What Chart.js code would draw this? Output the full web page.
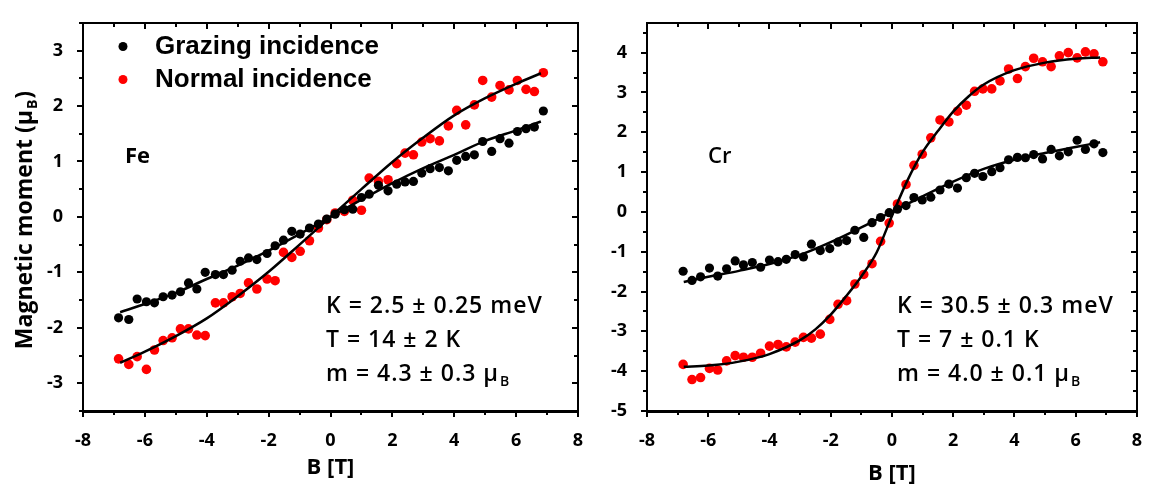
<!DOCTYPE html>
<html>
<head>
<meta charset="utf-8">
<script src="https://cdn.jsdelivr.net/npm/chart.js@4.4.0/dist/chart.umd.min.js"></script>
<style>
  html, body { margin: 0; padding: 0; background: #fff; }
  .panel { position: absolute; top: 0; height: 485px; }
  #fe-wrap { left: 0; width: 600px; }
  #cr-wrap { left: 600px; width: 553px; }
</style>
</head>
<body>
<div class="panel" id="fe-wrap"><canvas id="fe" width="600" height="485"></canvas></div>
<div class="panel" id="cr-wrap"><canvas id="cr" width="553" height="485"></canvas></div>
<script>
// Fe panel: measured magnetic moment vs field, grazing / normal incidence
const feB = [-6.85, -6.52, -6.25, -5.95, -5.69, -5.41, -5.12, -4.85, -4.59, -4.32,
  -4.05, -3.72, -3.46, -3.18, -2.92, -2.65, -2.38, -2.05, -1.79, -1.52,
  -1.25, -0.98, -0.68, -0.39, -0.12, 0.15, 0.45, 0.72, 1.0, 1.25,
  1.55, 1.86, 2.14, 2.41, 2.68, 2.95, 3.22, 3.52, 3.81, 4.08,
  4.37, 4.65, 4.92, 5.21, 5.48, 5.77, 6.04, 6.32, 6.59, 6.88];
const feGrazing = [-1.82, -1.85, -1.48, -1.53, -1.55, -1.44, -1.41, -1.35, -1.19, -1.30,
  -1.00, -1.04, -1.04, -0.96, -0.80, -0.74, -0.77, -0.66, -0.52, -0.42,
  -0.26, -0.31, -0.20, -0.13, -0.04, 0.05, 0.13, 0.14, 0.35, 0.41,
  0.57, 0.47, 0.59, 0.63, 0.64, 0.79, 0.87, 0.89, 0.83, 1.02,
  1.09, 1.12, 1.36, 1.18, 1.41, 1.33, 1.54, 1.59, 1.62, 1.91];
const feNormal = [-2.56, -2.66, -2.52, -2.75, -2.40, -2.23, -2.18, -2.02, -2.02, -2.13,
  -2.14, -1.55, -1.55, -1.44, -1.38, -1.19, -1.30, -1.12, -1.15, -0.64,
  -0.73, -0.62, -0.43, -0.20, -0.05, 0.07, 0.10, 0.30, 0.12, 0.70,
  0.64, 0.67, 0.96, 1.15, 1.12, 1.35, 1.41, 1.37, 1.64, 1.92,
  1.66, 2.02, 2.46, 2.16, 2.37, 2.29, 2.46, 2.30, 2.26, 2.60];
const feFitB = [-6.8, -6, -5, -4, -3, -2, -1, 0, 1, 2, 3, 4, 5, 6, 6.8];
const feFitGrazing = [-1.72, -1.57, -1.37, -1.12, -0.88, -0.61, -0.31, 0, 0.31, 0.61, 0.88, 1.12, 1.37, 1.56, 1.72];
const feFitNormal = [-2.63, -2.43, -2.15, -1.83, -1.43, -0.99, -0.50, 0, 0.50, 0.99, 1.43, 1.83, 2.14, 2.40, 2.59];

// Cr panel
const crB = [-6.82, -6.53, -6.25, -5.96, -5.69, -5.40, -5.12, -4.85, -4.56, -4.29,
  -4.00, -3.72, -3.45, -3.16, -2.89, -2.63, -2.34, -2.03, -1.76, -1.48,
  -1.21, -0.92, -0.65, -0.37, -0.09, 0.18, 0.46, 0.72, 0.99, 1.27,
  1.57, 1.86, 2.14, 2.43, 2.70, 2.97, 3.26, 3.53, 3.81, 4.10,
  4.36, 4.63, 4.92, 5.20, 5.47, 5.76, 6.05, 6.32, 6.60, 6.89];
const crGrazing = [-1.49, -1.72, -1.63, -1.41, -1.61, -1.43, -1.23, -1.33, -1.27, -1.39,
  -1.21, -1.25, -1.19, -1.07, -1.13, -0.81, -0.97, -0.92, -0.76, -0.72,
  -0.46, -0.64, -0.27, -0.14, -0.02, 0.07, 0.16, 0.36, 0.30, 0.37,
  0.55, 0.70, 0.60, 0.86, 0.97, 0.89, 1.01, 1.11, 1.31, 1.37,
  1.36, 1.44, 1.33, 1.57, 1.41, 1.51, 1.80, 1.57, 1.71, 1.49];
const crNormal = [-3.83, -4.21, -4.16, -3.93, -3.97, -3.74, -3.61, -3.65, -3.65, -3.55,
  -3.37, -3.33, -3.39, -3.27, -3.15, -3.17, -3.07, -2.70, -2.32, -2.23,
  -1.81, -1.57, -1.30, -0.74, -0.28, 0.20, 0.69, 1.17, 1.45, 1.86,
  2.31, 2.26, 2.53, 2.68, 3.03, 3.09, 3.09, 3.29, 3.59, 3.35,
  3.65, 3.86, 3.77, 3.65, 3.92, 4.00, 3.87, 4.02, 3.97, 3.77];
const crFitB = [-6.8, -6, -5, -4, -3, -2, -1, 0, 1, 2, 3, 4, 5, 6, 6.8];
const crFitGrazing = [-1.76, -1.63, -1.48, -1.31, -1.08, -0.76, -0.39, 0, 0.39, 0.76, 1.08, 1.31, 1.48, 1.63, 1.75];
const crFitNormalB = [-6.8, -6, -5, -4, -3, -2.5, -2, -1.5, -1, -0.5, 0, 0.5, 1, 1.5, 2, 2.5, 3, 4, 5, 6, 6.8];
const crFitNormal = [-3.89, -3.86, -3.76, -3.57, -3.22, -2.95, -2.58, -2.12, -1.62, -1.02, -0.10, 0.78, 1.50, 2.03, 2.52, 2.90, 3.20, 3.56, 3.75, 3.85, 3.88];

const RED = "#ff0000";
const BLACK = "#000000";
const CAL = "'Open Sans', 'DejaVu Sans', sans-serif";

function pts(xs, ys) { return xs.map((x, i) => ({ x, y: ys[i] })); }

// box frame, outward ticks at bottom/left, inward mirrored ticks at top/right
const framePlugin = {
  id: "boxFrame",
  afterDraw(chart) {
    const { ctx, chartArea: a, scales: { x, y } } = chart;
    const L = Math.round(a.left), R = Math.round(a.right);
    const T = Math.round(a.top), B = Math.round(a.bottom);
    ctx.save();
    ctx.fillStyle = BLACK;
    ctx.fillRect(L - 1, T - 1, R - L + 2, 2);
    ctx.fillRect(L - 1, B - 1, R - L + 2, 3);
    ctx.fillRect(L - 1, T - 1, 2, B - T + 2);
    ctx.fillRect(R - 1, T - 1, 2, B - T + 2);
    x.ticks.forEach(t => {
      const px = Math.round(x.getPixelForValue(t.value));
      const len = t.value % 2 === 0 ? 6 : 4;
      ctx.fillRect(px - 1, B, 2, len);
      ctx.fillRect(px - 1, T, 2, len);
    });
    y.ticks.forEach(t => {
      const py = Math.round(y.getPixelForValue(t.value));
      const len = Number.isInteger(t.value) ? 6 : 4;
      ctx.fillRect(L - len, py - 1, len, 2);
      ctx.fillRect(R - len, py - 1, len, 2);
    });
    ctx.restore();
  }
};

function drawSub(ctx, x, y, main, sub, size) {
  ctx.fillText(main, x, y);
  const w = ctx.measureText(main).width;
  const f = ctx.font;
  ctx.font = `600 ${Math.round(size * 0.62)}px ${CAL}`;
  ctx.fillText(sub, x + w + 1, y + size * 0.22);
  ctx.font = f;
}

// panel labels, fit parameters, legend and axis titles
const textPlugin = {
  id: "panelText",
  afterDraw(chart, args, o) {
    const ctx = chart.ctx;
    const a = chart.chartArea;
    ctx.save();
    ctx.fillStyle = BLACK;
    ctx.textBaseline = "alphabetic";
    ctx.textAlign = "left";

    ctx.font = `${o.labelWeight} 22px ${CAL}`;
    ctx.fillText(o.label, o.labelX, 163);

    ctx.font = `600 23px ${CAL}`;
    ctx.letterSpacing = "1px";
    ctx.fillText(o.params[0], o.paramX, 313);
    ctx.fillText(o.params[1], o.paramX, 347);
    drawSub(ctx, o.paramX, 381, o.params[2], "B", 23);
    ctx.letterSpacing = "0px";

    ctx.font = `bold 22px ${CAL}`;
    ctx.textAlign = "center";
    ctx.fillText("B [T]", (a.left + a.right) / 2, o.xTitleY);

    if (o.legend) {
      ctx.textAlign = "left";
      ctx.font = "bold 26px 'Liberation Sans', Arial, sans-serif";
      [["Grazing incidence", BLACK, 54], ["Normal incidence", RED, 87]].forEach(([t, c, yb]) => {
        ctx.fillStyle = c;
        ctx.beginPath();
        ctx.arc(a.left + 40, yb - 7.5, 4.5, 0, Math.PI * 2);
        ctx.fill();
        ctx.fillStyle = BLACK;
        ctx.fillText(t, a.left + 72, yb);
      });
    }

    if (o.yTitle) {
      ctx.translate(32, 220);
      ctx.rotate(-Math.PI / 2);
      const big = `bold 23px ${CAL}`;
      const small = `bold 14px ${CAL}`;
      const main = "Magnetic moment (\u03bc";
      ctx.font = big;
      const w1 = ctx.measureText(main).width;
      const w3 = ctx.measureText(")").width;
      ctx.font = small;
      const w2 = ctx.measureText("B").width;
      const x0 = -(w1 + w2 + w3 + 2) / 2;
      ctx.font = big;
      ctx.fillText(main, x0, 0);
      ctx.fillText(")", x0 + w1 + w2 + 2, 0);
      ctx.font = small;
      ctx.fillText("B", x0 + w1 + 1, 5);
    }
    ctx.restore();
  }
};

function makeChart(id, cfg) {
  const tickFont = { family: CAL, weight: "bold", size: 18 };
  return new Chart(document.getElementById(id), {
    type: "scatter",
    data: {
      datasets: [
        { data: pts(cfg.fitB1, cfg.fit1), showLine: true, borderColor: BLACK, borderWidth: 2.5, pointRadius: 0, cubicInterpolationMode: "monotone" },
        { data: pts(cfg.fitB2, cfg.fit2), showLine: true, borderColor: BLACK, borderWidth: 2.5, pointRadius: 0, cubicInterpolationMode: "monotone" },
        { label: "Grazing incidence", data: pts(cfg.b, cfg.grazing), backgroundColor: BLACK, borderWidth: 0, pointRadius: 4.6 },
        { label: "Normal incidence", data: pts(cfg.b, cfg.normal), backgroundColor: RED, borderWidth: 0, pointRadius: 4.8 },
      ],
    },
    options: {
      responsive: false,
      animation: false,
      layout: { padding: { left: 0, top: cfg.top, right: cfg.right, bottom: 0 } },
      plugins: {
        legend: { display: false },
        tooltip: { enabled: false },
        panelText: cfg.text,
      },
      scales: {
        x: {
          type: "linear", min: -8, max: 8,
          grid: { display: false }, border: { display: false },
          ticks: { stepSize: 1, autoSkip: false, maxRotation: 0, padding: 11, color: BLACK, font: tickFont,
            callback: v => (v % 2 === 0 ? String(v) : "") },
          afterFit: s => { s.height = 74; },
        },
        y: {
          type: "linear", min: cfg.yMin, max: cfg.yMax,
          grid: { display: false }, border: { display: false },
          ticks: { stepSize: 0.5, includeBounds: false, autoSkip: false, padding: 12, color: BLACK, font: tickFont,
            callback: v => (Number.isInteger(v) ? String(v) : "") },
          afterFit: s => { s.width = cfg.yWidth; },
        },
      },
    },
    plugins: [framePlugin, textPlugin],
  });
}

makeChart("fe", {
  b: feB, grazing: feGrazing, normal: feNormal,
  fitB1: feFitB, fit1: feFitGrazing, fitB2: feFitB, fit2: feFitNormal,
  yMin: -3.5, yMax: 3.5, yWidth: 83, top: 10, right: 22,
  text: {
    label: "Fe", labelWeight: "bold", labelX: 125, paramX: 326, xTitleY: 474,
    params: ["K = 2.5 \u00b1 0.25 meV", "T = 14 \u00b1 2 K", "m = 4.3 \u00b1 0.3 \u03bc"],
    legend: true, yTitle: true,
  },
});

makeChart("cr", {
  b: crB, grazing: crGrazing, normal: crNormal,
  fitB1: crFitB, fit1: crFitGrazing, fitB2: crFitNormalB, fit2: crFitNormal,
  yMin: -5, yMax: 4.75, yWidth: 47, top: 9, right: 10,
  text: {
    label: "Cr", labelWeight: "600", labelX: 108, paramX: 297, xTitleY: 480,
    params: ["K = 30.5 \u00b1 0.3 meV", "T = 7 \u00b1 0.1 K", "m = 4.0 \u00b1 0.1 \u03bc"],
    legend: false, yTitle: false,
  },
});
</script>
</body>
</html>
